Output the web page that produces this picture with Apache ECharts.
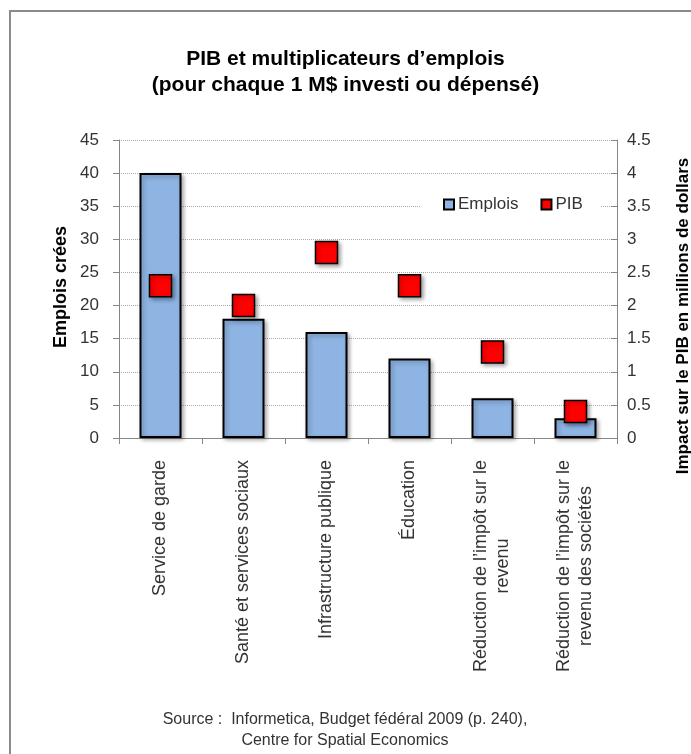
<!DOCTYPE html>
<html>
<head>
<meta charset="utf-8">
<script src="https://cdn.jsdelivr.net/npm/echarts@6/dist/echarts.min.js"></script>
<style>
  html, body { margin: 0; padding: 0; background: #fff; }
  #chart { width: 691px; height: 754px; }
</style>
</head>
<body>
<div id="chart"></div>
<script>
const categories = [
  'Service de garde',
  'Santé et services sociaux',
  'Infrastructure publique',
  'Éducation',
  'Réduction de l\u2019impôt sur le\nrevenu',
  'Réduction de l\u2019impôt sur le\nrevenu des sociétés'
];
const emplois = [40, 18, 16, 12, 6, 3];
const pib = [2.3, 2.0, 2.8, 2.3, 1.3, 0.4];

const font = '"Liberation Sans", Arial, sans-serif';
const catFontSize = 18;

// measure lines so wrapped category labels can be centred line by line
const ctx = document.createElement('canvas').getContext('2d');
ctx.font = catFontSize + 'px ' + font;
const rich = {};
const labelMap = {};
categories.forEach(function (c, i) {
  const lines = c.split('\n');
  const widths = lines.map(function (s) { return ctx.measureText(s).width; });
  const maxW = Math.max.apply(null, widths);
  labelMap[c] = lines.map(function (s, j) {
    const key = 'l' + i + '_' + j;
    rich[key] = {
      fontFamily: font, fontSize: catFontSize, color: '#333', lineHeight: 22,
      padding: [0, (maxW - widths[j]) / 2, 0, 0]
    };
    return '{' + key + '|' + s + '}';
  }).join('\n');
});

const chart = echarts.init(document.getElementById('chart'));

const option = {
  animation: false,
  title: {
    text: 'PIB et multiplicateurs d\u2019emplois\n(pour chaque 1 M$ investi ou dépensé)',
    left: 'center',
    top: 41,
    textStyle: { fontFamily: font, fontSize: 21, fontWeight: 'bold', color: '#000', lineHeight: 26 }
  },
  legend: {
    left: 420,
    top: 190,
    padding: [6, 18, 6, 23],
    backgroundColor: '#fff',
    itemWidth: 10,
    itemHeight: 10,
    itemGap: 22,
    textStyle: { fontFamily: font, fontSize: 17, color: '#333', padding: [0, 0, 0, -1] },
    data: [
      { name: 'Emplois', icon: 'rect' },
      { name: 'PIB', icon: 'rect' }
    ]
  },
  grid: { left: 119, right: 74, top: 140, bottom: 316 },
  xAxis: {
    type: 'category',
    data: categories,
    axisLine: { lineStyle: { color: '#868686', width: 1 } },
    axisTick: { show: true, length: 6, lineStyle: { color: '#868686' } },
    axisLabel: {
      interval: 0,
      rotate: 90,
      margin: 22,
      fontFamily: font,
      fontSize: catFontSize,
      color: '#333',
      formatter: function (v) { return labelMap[v]; },
      rich: rich
    },
    splitLine: { show: false }
  },
  yAxis: [
    {
      type: 'value',
      min: 0,
      max: 45,
      interval: 5,
      axisLine: { show: true, lineStyle: { color: '#868686' } },
      axisTick: { show: true, length: 6, lineStyle: { color: '#868686' } },
      axisLabel: { margin: 20, fontFamily: font, fontSize: 17, color: '#333' },
      splitLine: { show: true, lineStyle: { color: '#aaa', type: [1, 1], width: 1 } }
    },
    {
      type: 'value',
      min: 0,
      max: 4.5,
      interval: 0.5,
      position: 'right',
      axisLine: { show: true, lineStyle: { color: '#868686' } },
      axisTick: { show: true, length: 6, inside: true, lineStyle: { color: '#868686' } },
      axisLabel: { margin: 10, fontFamily: font, fontSize: 17, color: '#333' },
      splitLine: { show: false }
    }
  ],
  series: [
    {
      name: 'Emplois',
      type: 'bar',
      data: emplois,
      barWidth: 42,
      itemStyle: {
        color: '#8EB4E3',
        borderColor: '#000',
        borderWidth: 2,
        shadowBlur: 4,
        shadowOffsetX: 2,
        shadowOffsetY: 2,
        shadowColor: 'rgba(0,0,0,0.3)'
      }
    },
    {
      name: 'PIB',
      type: 'scatter',
      yAxisIndex: 1,
      data: pib,
      symbol: 'rect',
      symbolSize: 22,
      z: 5,
      itemStyle: {
        color: '#FF0000',
        borderColor: '#000',
        borderWidth: 1.5,
        opacity: 1,
        shadowBlur: 4,
        shadowOffsetX: 2,
        shadowOffsetY: 2,
        shadowColor: 'rgba(0,0,0,0.35)'
      }
    }
  ],
  graphic: [
    {
      type: 'rect',
      shape: { x: 10, y: 11, width: 720, height: 780 },
      style: { fill: 'none', stroke: '#8a8a8a', lineWidth: 2 },
      silent: true,
      z: -1
    },
    {
      type: 'text',
      x: 61,
      y: 287,
      rotation: Math.PI / 2,
      style: {
        text: 'Emplois crées',
        fontFamily: font,
        fontSize: 18,
        fontWeight: 'bold',
        fill: '#000',
        align: 'center',
        verticalAlign: 'middle'
      }
    },
    {
      type: 'text',
      x: 683,
      y: 316,
      rotation: Math.PI / 2,
      style: {
        text: 'Impact sur le PIB en millions de dollars',
        fontFamily: font,
        fontSize: 17,
        fontWeight: 'bold',
        fill: '#000',
        align: 'center',
        verticalAlign: 'middle'
      }
    },
    {
      type: 'text',
      x: 345,
      y: 730,
      style: {
        text: 'Source :  Informetica, Budget fédéral 2009 (p. 240),\nCentre for Spatial Economics',
        fontFamily: font,
        fontSize: 16,
        fill: '#333',
        align: 'center',
        verticalAlign: 'middle',
        lineHeight: 21
      }
    }
  ]
};

chart.setOption(option);
</script>
</body>
</html>
